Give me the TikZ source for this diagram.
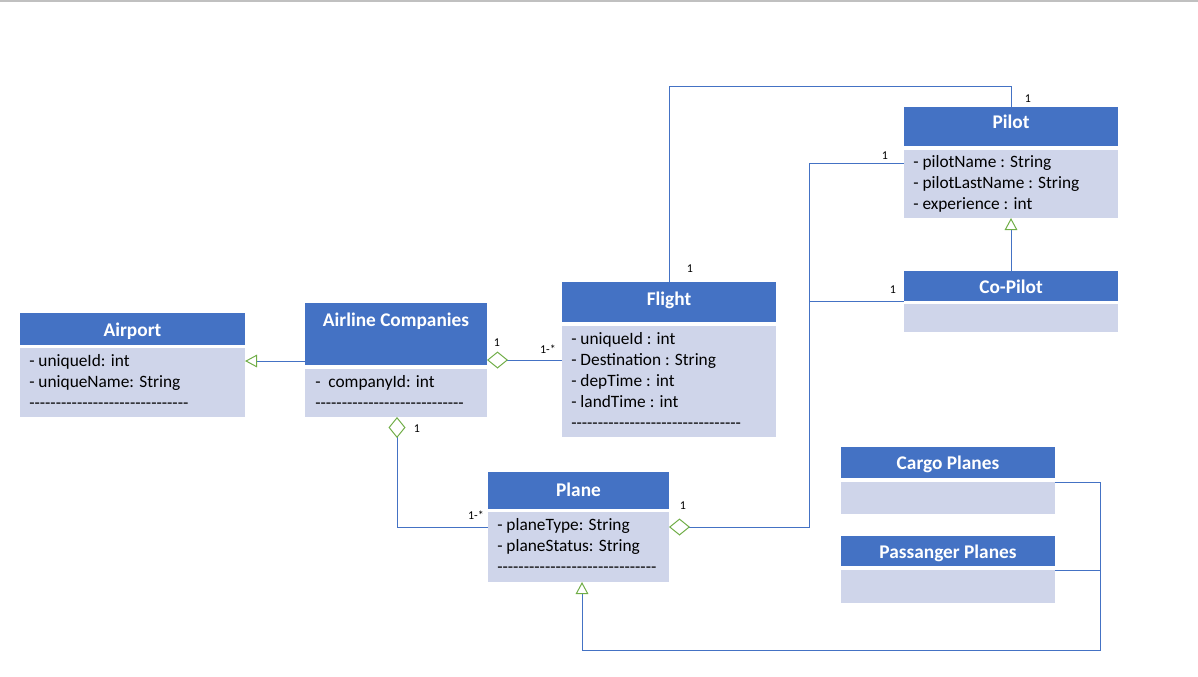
\documentclass[tikz,border=0pt]{standalone}
\usepackage{fontspec}
\setmainfont{Carlito}
\usetikzlibrary{arrows.meta}
\definecolor{hdrblue}{HTML}{4472C4}
\definecolor{bodyblue}{HTML}{CFD5EA}
\definecolor{agreen}{HTML}{70AD47}
\definecolor{topgray}{HTML}{C0C0C0}
\newcommand\dashrow[1]{\foreach \i in {1,...,#1}{-\kern0pt}}
\tikzset{
  hdr/.style={fill=hdrblue, draw=none, anchor=north west, inner sep=0pt, outer sep=0pt},
  bdy/.style={fill=bodyblue, draw=none, anchor=north west, inner sep=0pt, outer sep=0pt},
  sz/.style 2 args={minimum width=#1*0.75pt, minimum height=#2*0.75pt},
  ttl/.style={text=white, font=\fontsize{14.5}{17}\selectfont\bfseries, anchor=base, inner sep=0pt},
  attr/.style={anchor=base west, inner sep=0pt, font=\fontsize{13}{15}\selectfont},
  mult/.style={anchor=base, inner sep=0pt, font=\fontsize{9}{10}\selectfont},
  conn/.style={draw=hdrblue, line width=0.75pt},
  gen/.style={conn, -{Triangle[open, length=9pt, width=9.5pt, color=agreen, line width=0.75pt]}},
  agg/.style={conn, {Diamond[open, length=15.75pt, width=12.75pt, color=agreen, line width=0.75pt]}-}
}
\begin{document}
\begin{tikzpicture}[x=0.75pt, y=-0.75pt]
\useasboundingbox (0,0) rectangle (1198,676);
\fill[topgray] (0,0) rectangle (1198,1.5);

% Airport
\node[hdr, sz={225}{32}] (airportH) at (20,313) {};
\node[bdy, sz={225}{69}] (airportB) at (20,348) {};
\node[ttl] (airportT) at (132.5,336) {Airport};
\node[attr] (ap1) at (29,366) {- uniqueId: int};
\node[attr] (ap2) at (29,387) {- uniqueName: String};
\node[attr] (ap3) at (29,408) {\dashrow{30}};

% Airline Companies
\node[hdr, sz={182}{62}] (airlineH) at (305,303) {};
\node[bdy, sz={182}{48}] (airlineB) at (305,369) {};
\node[ttl] (airlineT) at (396,326) {Airline Companies};
\node[attr] (al1) at (315,387) {-\ \ companyId: int};
\node[attr] (al2) at (315,408) {\dashrow{28}};

% Flight
\node[hdr, sz={214}{40}] (flightH) at (562,282) {};
\node[bdy, sz={214}{111}] (flightB) at (562,326) {};
\node[ttl] (flightT) at (669,305) {Flight};
\node[attr] (fl1) at (571,344) {- uniqueId : int};
\node[attr] (fl2) at (571,365) {- Destination : String};
\node[attr] (fl3) at (571,386) {- depTime : int};
\node[attr] (fl4) at (571,407) {- landTime : int};
\node[attr] (fl5) at (571,428) {\dashrow{32}};

% Pilot
\node[hdr, sz={214}{39}] (pilotH) at (904,107) {};
\node[bdy, sz={214}{68}] (pilotB) at (904,150) {};
\node[ttl] (pilotT) at (1011,128) {Pilot};
\node[attr] (pi1) at (913,167) {- pilotName : String};
\node[attr] (pi2) at (913,188) {- pilotLastName : String};
\node[attr] (pi3) at (913,209) {- experience : int};

% Co-Pilot
\node[hdr, sz={214}{30}] (copilotH) at (904,271) {};
\node[bdy, sz={214}{28}] (copilotB) at (904,304) {};
\node[ttl] (copilotT) at (1011,293) {Co-Pilot};

% Plane
\node[hdr, sz={181}{37}] (planeH) at (488,472) {};
\node[bdy, sz={181}{70}] (planeB) at (488,512) {};
\node[ttl] (planeT) at (578.5,496) {Plane};
\node[attr] (pl1) at (497,530) {- planeType: String};
\node[attr] (pl2) at (497,551) {- planeStatus: String};
\node[attr] (pl3) at (497,572) {\dashrow{30}};

% Cargo Planes
\node[hdr, sz={214}{31}] (cargoH) at (841,447) {};
\node[bdy, sz={214}{32}] (cargoB) at (841,482) {};
\node[ttl] (cargoT) at (948,469) {Cargo Planes};

% Passanger Planes
\node[hdr, sz={214}{30}] (passH) at (841,536) {};
\node[bdy, sz={214}{33}] (passB) at (841,570) {};
\node[ttl] (passT) at (948,558) {Passanger Planes};

% junctions
\coordinate (j1) at (809,163);
\coordinate (j2) at (1011,86);
\coordinate (j3) at (1100,650);
\coordinate (j4) at (582,650);

% connectors
\draw[gen] (airlineH.west |- 0,361) -- (airportB.east |- 0,361);
\draw[agg] (airlineH.east |- 0,360) -- (flightB.west |- 0,360);
\draw[agg] (airlineB.south -| 397,0) |- (planeB.west |- 0,527);
\draw[agg] (planeB.east |- 0,527) -| (j1) -- (pilotB.west |- j1);
\draw[conn] (copilotH.south west) -- (copilotH.south west -| j1);
\draw[conn] (flightH.north) |- (j2) -- (pilotH.north);
\draw[gen] (copilotH.north) -- (pilotB.south);
\draw[gen] (cargoB.north east) -| (j3) -- (j4) -- (planeB.south -| j4);
\draw[conn] (passB.north east) -- (passB.north east -| j3);

% multiplicities
\node[mult] (m1) at (497,346) {1};
\node[mult] (m2) at (548,353) {1-*};
\node[mult] (m3) at (417,432) {1};
\node[mult] (m4) at (476,519) {1-*};
\node[mult] (m5) at (683,509) {1};
\node[mult] (m6) at (885,159) {1};
\node[mult] (m7) at (893,293) {1};
\node[mult] (m8) at (1028,102) {1};
\node[mult] (m9) at (690,272) {1};
\end{tikzpicture}
\end{document}
